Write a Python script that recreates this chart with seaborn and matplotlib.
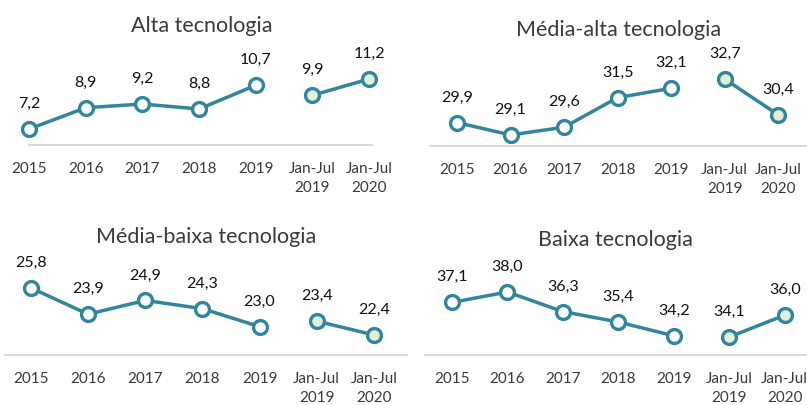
import matplotlib
matplotlib.use("Agg")
import matplotlib.pyplot as plt
import seaborn as sns
import pandas as pd

# ---------------- data ----------------
categories = ["2015", "2016", "2017", "2018", "2019", "Jan-Jul\n2019", "Jan-Jul\n2020"]
titles = ["Alta tecnologia", "Média-alta tecnologia", "Média-baixa tecnologia", "Baixa tecnologia"]
alta = [7.2, 8.9, 9.2, 8.8, 10.7, 9.9, 11.2]
media_alta = [29.9, 29.1, 29.6, 31.5, 32.1, 32.7, 30.4]
media_baixa = [25.8, 23.9, 24.9, 24.3, 23.0, 23.4, 22.4]
baixa = [37.1, 38.0, 36.3, 35.4, 34.2, 34.1, 36.0]
n_annual = 5  # first five points are full years, last two are Jan-Jul

# ---------------- style ----------------
sns.set_theme(style="white")
plt.rcParams['font.family'] = ['Lato', 'DejaVu Sans']

LINE = "#31859C"
FACE_PARTIAL = "#E4EFDA"
AXIS = "#D9D9D9"
TITLE_C = "#3A3A3A"
TICK_C = "#3A3A3A"
LABEL_C = "#111111"

W, H = 807, 405
fig = plt.figure(figsize=(W / 100, H / 100), dpi=100)
fig.patch.set_facecolor("white")

# layout in pixels: (left, right, top, spine_y)
panels = [
    dict(vals=alta, title=titles[0], box=(29, 372, 60, 145), xlim=(0, 6.05), ylim=(5.92, 12.72), txy=(202, 32)),
    dict(vals=media_alta, title=titles[1], box=(430, 807, 60, 146), xlim=(-0.505, 6.54), ylim=(28.39, 33.92), txy=(619, 36)),
    dict(vals=media_baixa, title=titles[2], box=(5, 407, 265, 355), xlim=(-0.455, 6.58), ylim=(20.95, 27.46), txy=(206, 243)),
    dict(vals=baixa, title=titles[3], box=(425, 807, 265, 355), xlim=(-0.486, 6.40), ylim=(32.54, 40.34), txy=(615, 246)),
]

for p in panels:
    l, r, t, b = p["box"]
    ax = fig.add_axes([l / W, 1 - b / H, (r - l) / W, (b - t) / H])
    ax.set_facecolor("none")
    vals = p["vals"]
    df = pd.DataFrame({"pos": list(range(len(categories))), "value": vals,
                       "period": ["annual"] * n_annual + ["partial"] * (len(vals) - n_annual)})
    for period, face in [("annual", "white"), ("partial", FACE_PARTIAL)]:
        sub = df[df["period"] == period]
        sns.lineplot(data=sub, x="pos", y="value", ax=ax, color=LINE, lw=2.5,
                     marker="o", markersize=10, markerfacecolor=face,
                     markeredgecolor=LINE, markeredgewidth=2.4, clip_on=False,
                     zorder=3, legend=False)
    for i, v in enumerate(vals):
        ax.annotate(f"{v:.1f}".replace(".", ","), (i, v), xytext=(0, 18),
                    textcoords="offset points", ha="center", va="center",
                    fontsize=11.5, color=LABEL_C)
    ax.set_xlim(*p["xlim"])
    ax.set_ylim(*p["ylim"])
    ax.set_xticks(range(len(categories)))
    ax.set_xticklabels(categories, fontsize=11, color=TICK_C, linespacing=1.45)
    ax.tick_params(axis="x", length=0, pad=12)
    ax.set_yticks([])
    ax.set_xlabel("")
    ax.set_ylabel("")
    for s in ["left", "right", "top"]:
        ax.spines[s].set_visible(False)
    ax.spines["bottom"].set_color(AXIS)
    ax.spines["bottom"].set_linewidth(1.4)
    tx, ty = p["txy"]
    fig.text(tx / W, 1 - ty / H, p["title"], ha="center", va="baseline",
             fontsize=15.5, color=TITLE_C)

fig.savefig("out.png", dpi=100)
